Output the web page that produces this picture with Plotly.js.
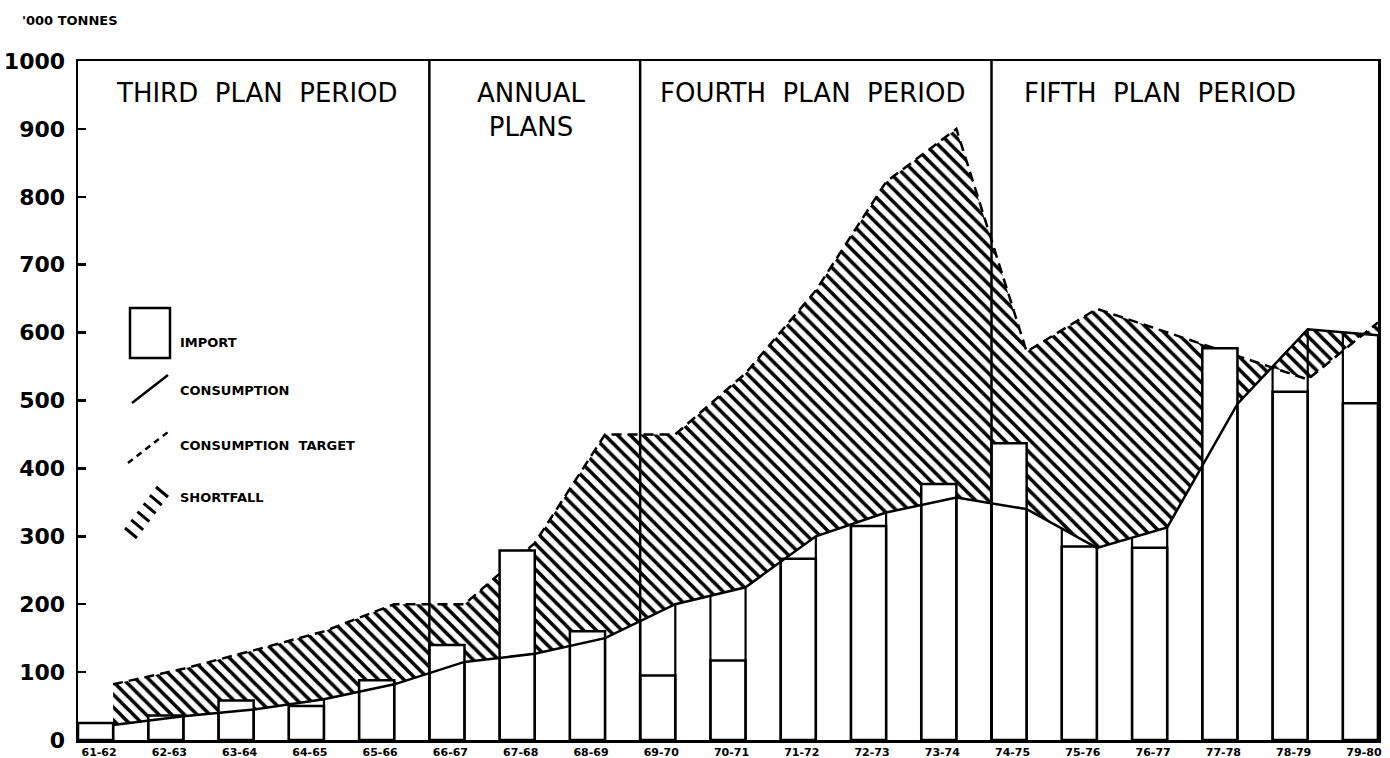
<!DOCTYPE html>
<html>
<head>
<meta charset="utf-8">
<script src="https://cdn.plot.ly/plotly-3.0.1.min.js"></script>
<style>html,body{margin:0;padding:0;background:#fff}#chart{width:1390px;height:758px}</style>
</head>
<body>
<div id="chart"></div>
<script>
// ---- data ('000 tonnes) ----
const years = ['61-62','62-63','63-64','64-65','65-66','66-67','67-68','68-69','69-70','70-71',
               '71-72','72-73','73-74','74-75','75-76','76-77','77-78','78-79','79-80'];
const imports = [25, 36, 58, 50, 88, 140, 279, 160, 95, 117, 267, 315, 377, 437, 285, 283, 577, 513, 496];
const consumption = [22, 35, 45, 60, 82, 115, 127, 150, 200, 225, 300, 335, 357, 340, 283, 313, 495, 605, 596];
const consumptionTarget = [82, 105, 132, 160, 200, 200, 290, 450, 450, 540, 662, 822, 900, 572, 635, 600, 566, 531, 615];
const planNames = ['THIRD\u00A0\u00A0PLAN\u00A0\u00A0PERIOD', 'ANNUAL<br>PLANS', 'FOURTH\u00A0\u00A0PLAN\u00A0\u00A0PERIOD', 'FIFTH\u00A0\u00A0PLAN\u00A0\u00A0PERIOD'];
const planStarts = [0, 5, 8, 13];
const legendLabels = ['IMPORT', 'CONSUMPTION', 'CONSUMPTION\u00A0\u00A0TARGET', 'SHORTFALL'];

// ---- geometry helpers ----
const L = 78, T = 61, W = 1300, H = 679;
const px = x => (x - L) / W;
const py = y => (T + H - y) / H;

const barX = years.map((_, i) => i + 0.25);
const pointX = years.map((_, i) => i + 0.5);

// column edges of the consumption cells, up to the consumption curve
const edgeX = [], edgeY = [];
consumption.forEach((c, i) => {
  if (i > 0) { edgeX.push(i, i, null); edgeY.push(0, (consumption[i - 1] + c) / 2, null); }
  edgeX.push(i + 0.5, i + 0.5, null); edgeY.push(0, c, null);
});

const black = '#000';
const traces = [
  { x: pointX, y: consumption, type: 'scatter', mode: 'lines', line: { width: 0, color: black },
    xaxis: 'x', yaxis: 'y', hoverinfo: 'skip', showlegend: false },
  { x: pointX, y: consumptionTarget, type: 'scatter', mode: 'lines', fill: 'tonexty',
    fillcolor: 'white',
    fillpattern: { shape: '\\', fgcolor: black, bgcolor: 'white', size: 9, solidity: 0.4 },
    line: { color: black, width: 2.5, dash: '10px,6px' },
    xaxis: 'x', yaxis: 'y', name: 'SHORTFALL', showlegend: false },
  { x: barX, y: imports, type: 'bar', width: 0.5,
    marker: { color: 'white', line: { color: black, width: 2.5 } },
    xaxis: 'x2', yaxis: 'y2', name: 'IMPORT', showlegend: false },
  { x: edgeX, y: edgeY, type: 'scatter', mode: 'lines', line: { color: black, width: 2.2 },
    xaxis: 'x3', yaxis: 'y3', hoverinfo: 'skip', showlegend: false, connectgaps: false },
  { x: pointX, y: consumption, type: 'scatter', mode: 'lines', line: { color: black, width: 2.5 },
    xaxis: 'x3', yaxis: 'y3', name: 'CONSUMPTION', showlegend: false }
];

const xr = [0, years.length - 0.5];
const yr = [0, 1000];
const hiddenX = { range: xr, overlaying: 'x', visible: false, fixedrange: true };
const hiddenY = { range: yr, overlaying: 'y', visible: false, fixedrange: true };

const boldFont = (size) => ({ family: 'DejaVu Sans, sans-serif', size: size, color: black, weight: 700 });
const plainFont = (size) => ({ family: 'DejaVu Sans, sans-serif', size: size, color: black });

const shapes = [];
// plan dividers
planStarts.slice(1).forEach(s => shapes.push({ type: 'line', xref: 'x', yref: 'y', x0: s, x1: s, y0: 0, y1: 1000,
  line: { color: black, width: 2.5 }, layer: 'above' }));
// legend icons
shapes.push({ type: 'rect', xref: 'paper', yref: 'paper', x0: px(130), x1: px(170), y0: py(358), y1: py(308),
  line: { color: black, width: 2.5 }, fillcolor: 'white', layer: 'above' });
shapes.push({ type: 'line', xref: 'paper', yref: 'paper', x0: px(132), y0: py(403), x1: px(168), y1: py(375),
  line: { color: black, width: 2.5 }, layer: 'above' });
shapes.push({ type: 'line', xref: 'paper', yref: 'paper', x0: px(128), y0: py(463), x1: px(168), y1: py(432),
  line: { color: black, width: 2.5, dash: '6px,5px' }, layer: 'above' });
let hp = '';
for (let k = 0; k < 6; k++) {
  const cx = 131 + k * 6.2, cy = 533 - k * 8.2;
  hp += `M${px(cx - 6)},${py(cy - 5)} L${px(cx + 6)},${py(cy + 5)} `;
}
shapes.push({ type: 'path', xref: 'paper', yref: 'paper', path: hp, line: { color: black, width: 3 }, layer: 'above' });

const annotations = [];
const planX = [2.55, 6.45, 10.45, 15.4];
planNames.forEach((n, k) => annotations.push({ xref: 'x', yref: 'paper', x: planX[k], y: k === 1 ? py(110) : py(93),
  text: n, showarrow: false, xanchor: 'center', yanchor: 'middle', font: plainFont(26) }));
const legY = [342, 390, 445, 498];
legendLabels.forEach((t, k) => annotations.push({ xref: 'paper', yref: 'paper', x: px(178), y: py(legY[k]),
  text: t, showarrow: false, xanchor: 'left', yanchor: 'middle', font: boldFont(13) }));
annotations.push({ xref: 'paper', yref: 'paper', x: px(20), y: py(21), text: "'000 TONNES", showarrow: false,
  xanchor: 'left', yanchor: 'middle', font: boldFont(13) });

const layout = {
  width: 1390, height: 758,
  margin: { l: L, r: 1390 - L - W, t: T, b: 758 - T - H, pad: 0 },
  paper_bgcolor: 'white', plot_bgcolor: 'white',
  showlegend: false,
  bargap: 0,
  xaxis: { range: xr, showgrid: false, zeroline: false, showline: true, mirror: true,
    linecolor: black, linewidth: 2.5, ticks: '', tickvals: years.map((_, i) => i + 0.3), ticktext: years,
    tickfont: boldFont(11), ticklabelstandoff: 0, fixedrange: true, automargin: false },
  yaxis: { range: yr, showgrid: false, zeroline: false, showline: true, mirror: true,
    linecolor: black, linewidth: 2.5, ticks: 'inside', ticklen: 8, tickwidth: 2.5, tickcolor: black,
    tickvals: [0,100,200,300,400,500,600,700,800,900,1000], tickfont: boldFont(22),
    ticklabelstandoff: 6, fixedrange: true, automargin: false },
  xaxis2: hiddenX, yaxis2: hiddenY,
  xaxis3: Object.assign({}, hiddenX), yaxis3: Object.assign({}, hiddenY),
  shapes: shapes,
  annotations: annotations
};

Plotly.newPlot('chart', traces, layout, { staticPlot: true, displayModeBar: false });
</script>
</body>
</html>
